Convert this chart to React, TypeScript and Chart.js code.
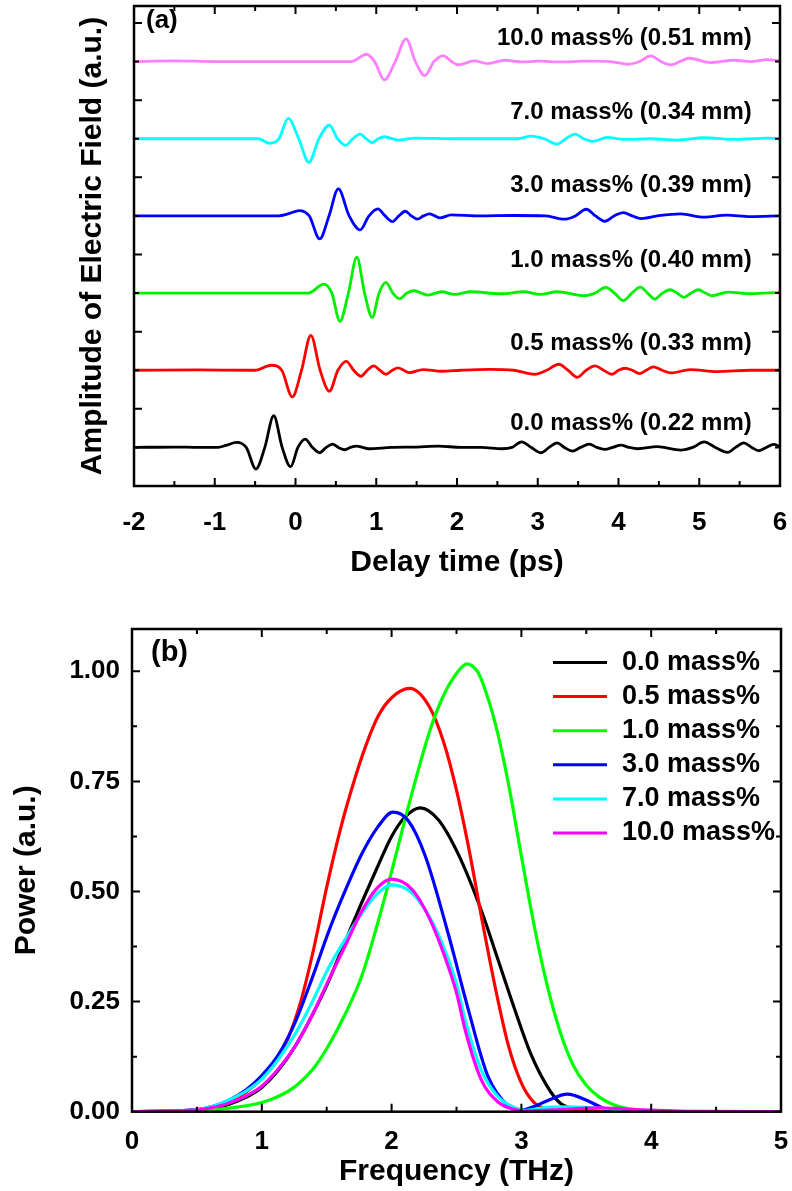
import React, { useEffect, useRef } from 'react';
import { Chart, registerables } from 'chart.js';
Chart.register(...registerables);

const FONT = "'Liberation Sans', Arial, Helvetica, sans-serif";

// ---------- (a) time-domain waveforms ----------
const topLabels = [
  '0.0 mass% (0.22 mm)',
  '0.5 mass% (0.33 mm)',
  '1.0 mass% (0.40 mm)',
  '3.0 mass% (0.39 mm)',
  '7.0 mass% (0.34 mm)',
  '10.0 mass% (0.51 mm)',
];
const topColors = ['#000000', '#ff0000', '#00f000', '#0000ff', '#00ffff', '#ff80ff'];
const traceOffsets = [0.5, 1.5, 2.5, 3.5, 4.5, 5.5];

const time00 = [-2, -1.5, -1.2, -0.96, -0.85, -0.73, -0.61, -0.49, -0.38, -0.27, -0.165, -0.06, 0.03, 0.12, 0.21, 0.3, 0.38, 0.46, 0.53, 0.61, 0.68, 0.76, 0.83, 0.9, 1.19, 1.5, 1.77, 2.05, 2.3, 2.56, 2.68, 2.8, 2.92, 3.04, 3.14, 3.24, 3.33, 3.43, 3.53, 3.64, 3.73, 3.83, 3.93, 4.03, 4.13, 4.24, 4.48, 4.77, 4.92, 5.06, 5.2, 5.35, 5.45, 5.55, 5.65, 5.74, 5.83, 5.92, 6.0];
const amp00 = [0, 0.005, 0, 0, 0.03, 0.065, 0, -0.28, 0, 0.41, 0, -0.25, 0, 0.108, 0, -0.069, 0, 0.043, 0, -0.03, 0, 0.017, 0, -0.017, 0, 0.005, 0.017, 0, 0, -0.017, 0, 0.073, 0, -0.069, 0, 0.06, 0, -0.047, 0, 0.043, 0, -0.026, 0, 0.03, 0, -0.017, 0.009, -0.034, 0, 0.073, 0, -0.065, 0, 0.06, 0, -0.043, 0, 0.039, 0.01];

const time05 = [-2, -1.2, -0.6, -0.5, -0.3, -0.17, -0.04, 0.075, 0.19, 0.305, 0.42, 0.525, 0.63, 0.72, 0.81, 0.89, 0.97, 1.045, 1.12, 1.2, 1.27, 1.34, 1.41, 1.58, 1.81, 2.05, 2.4, 2.7, 2.96, 3.11, 3.26, 3.375, 3.49, 3.6, 3.71, 3.815, 3.92, 4.0, 4.08, 4.17, 4.26, 4.345, 4.43, 4.54, 4.65, 4.89, 5.22, 5.64, 6.0];
const amp05 = [0, 0.005, 0, 0, 0.065, 0, -0.345, 0, 0.453, 0, -0.272, 0, 0.116, 0, -0.078, 0, 0.056, 0, -0.052, 0, 0.03, 0, -0.03, 0.009, -0.013, 0, 0.01, 0, -0.052, 0, 0.078, 0, -0.091, 0, 0.056, 0, -0.052, 0, 0.026, 0, -0.043, 0, 0.043, 0, -0.035, 0.009, -0.017, 0, 0];

const time10 = [-2, -1, 0, 0.16, 0.35, 0.45, 0.55, 0.655, 0.76, 0.855, 0.95, 1.035, 1.12, 1.205, 1.29, 1.38, 1.47, 1.555, 1.64, 1.81, 1.97, 2.17, 2.54, 2.83, 3.03, 3.24, 3.57, 3.71, 3.84, 3.95, 4.06, 4.165, 4.27, 4.36, 4.45, 4.545, 4.64, 4.725, 4.81, 4.9, 4.99, 5.075, 5.16, 5.35, 5.64, 6.0];
const amp10 = [0, 0, 0, 0, 0.116, 0, -0.366, 0, 0.466, 0, -0.315, 0, 0.138, 0, -0.073, 0, 0.03, 0, -0.026, 0.017, -0.017, 0.017, -0.009, 0.017, -0.017, 0.017, -0.034, 0, 0.073, 0, -0.099, 0, 0.078, 0, -0.078, 0, 0.043, 0, -0.056, 0, 0.043, 0, -0.034, 0.013, -0.009, 0.009];

const time30 = [-2, -1, -0.21, -0.08, 0.045, 0.17, 0.3, 0.415, 0.53, 0.665, 0.8, 0.91, 1.02, 1.11, 1.2, 1.28, 1.36, 1.435, 1.51, 1.585, 1.66, 1.725, 1.79, 1.93, 2.27, 2.7, 3.1, 3.33, 3.465, 3.6, 3.715, 3.83, 3.945, 4.06, 4.17, 4.28, 4.48, 4.77, 5.06, 5.34, 5.63, 6.0];
const amp30 = [0, 0, 0, 0.03, 0.069, 0, -0.298, 0, 0.349, 0, -0.181, 0, 0.091, 0, -0.073, 0, 0.06, 0, -0.043, 0, 0.026, 0, -0.026, 0.013, 0, 0.005, 0, -0.043, 0, 0.086, 0, -0.069, 0, 0.043, 0, -0.034, 0, 0.026, -0.017, 0.009, -0.009, 0];

const time70 = [-2, -1, -0.46, -0.32, -0.205, -0.09, 0.04, 0.165, 0.29, 0.42, 0.52, 0.62, 0.71, 0.8, 0.875, 0.95, 1.025, 1.1, 1.27, 1.48, 2.0, 2.5, 2.75, 2.92, 3.08, 3.24, 3.35, 3.46, 3.57, 3.68, 3.86, 4.07, 4.4, 4.73, 5.06, 5.43, 5.84, 6.0];
const amp70 = [0, 0, 0, -0.06, 0, 0.263, 0, -0.306, 0, 0.177, 0, -0.086, 0, 0.06, 0, -0.052, 0, 0.026, -0.017, 0.009, 0, 0, 0, 0.035, 0, -0.069, 0, 0.06, 0, -0.035, 0.017, -0.009, 0, -0.017, 0.013, -0.009, 0.009, 0];

const time100 = [-2, -1.5, -1, 0, 0.5, 0.69, 0.88, 0.98, 1.1, 1.235, 1.37, 1.485, 1.6, 1.715, 1.83, 1.93, 2.02, 2.21, 2.38, 2.59, 2.8, 3.0, 3.3, 3.6, 3.9, 4.12, 4.26, 4.4, 4.525, 4.65, 4.76, 4.87, 5.14, 5.43, 5.64, 5.84, 6.0];
const amp100 = [0, 0.009, 0, 0, 0, 0, 0.095, 0, -0.237, 0, 0.294, 0, -0.181, 0, 0.078, 0, -0.043, 0.009, -0.026, 0.017, -0.005, 0.005, -0.005, 0.005, 0, -0.035, 0, 0.074, 0, -0.043, 0, 0.043, -0.013, 0.017, 0, 0.026, 0.009];

const topTimes = [time00, time05, time10, time30, time70, time100];
const topAmps = [amp00, amp05, amp10, amp30, amp70, amp100];

// ---------- (b) power spectra ----------
const legendLabels = ['0.0 mass%', '0.5 mass%', '1.0 mass%', '3.0 mass%', '7.0 mass%', '10.0 mass%'];
const botColors = ['#000000', '#ff0000', '#00ff00', '#0000ff', '#00ffff', '#ff00ff'];

const freq00 = [0, 0.5, 0.63, 0.75, 0.88, 1.0, 1.13, 1.26, 1.39, 1.51, 1.64, 1.77, 1.89, 2.0, 2.1, 2.22, 2.36, 2.51, 2.69, 2.82, 2.95, 3.07, 3.2, 3.3, 3.4, 3.6, 3.8, 4.0, 5.0];
const pow00 = [0, 0.003, 0.008, 0.017, 0.033, 0.055, 0.095, 0.15, 0.22, 0.293, 0.385, 0.475, 0.555, 0.625, 0.668, 0.69, 0.663, 0.587, 0.458, 0.345, 0.231, 0.133, 0.057, 0.019, 0.007, 0.003, 0.002, 0, 0];

const freq05 = [0, 0.5, 0.63, 0.75, 0.88, 1.0, 1.1, 1.2, 1.3, 1.4, 1.5, 1.6, 1.7, 1.8, 1.9, 2.0, 2.14, 2.29, 2.4, 2.5, 2.6, 2.7, 2.8, 2.9, 3.0, 3.1, 3.2, 3.35, 3.5, 3.7, 4.0, 5.0];
const pow05 = [0, 0.004, 0.011, 0.024, 0.045, 0.075, 0.11, 0.165, 0.25, 0.37, 0.51, 0.635, 0.74, 0.83, 0.9, 0.94, 0.961, 0.92, 0.84, 0.73, 0.59, 0.43, 0.28, 0.15, 0.065, 0.02, 0.006, 0.003, 0.005, 0.003, 0, 0];

const freq10 = [0, 0.5, 0.75, 1.0, 1.13, 1.26, 1.39, 1.51, 1.64, 1.77, 1.89, 2.0, 2.1, 2.2, 2.3, 2.4, 2.5, 2.58, 2.66, 2.7, 2.8, 2.9, 3.0, 3.1, 3.2, 3.3, 3.4, 3.5, 3.6, 3.7, 3.8, 3.9, 4.0, 4.5, 5.0];
const pow10 = [0, 0.002, 0.008, 0.021, 0.035, 0.058, 0.095, 0.148, 0.22, 0.308, 0.425, 0.545, 0.66, 0.77, 0.87, 0.945, 0.995, 1.017, 1.0, 0.975, 0.88, 0.745, 0.58, 0.42, 0.285, 0.18, 0.105, 0.06, 0.033, 0.017, 0.008, 0.004, 0.001, 0, 0];

const freq30 = [0, 0.5, 0.63, 0.75, 0.88, 1.0, 1.13, 1.26, 1.39, 1.51, 1.64, 1.77, 1.89, 2.01, 2.13, 2.26, 2.44, 2.59, 2.74, 2.9, 3.0, 3.1, 3.2, 3.355, 3.51, 3.66, 3.8, 4.0, 5.0];
const pow30 = [0, 0.005, 0.013, 0.027, 0.05, 0.082, 0.13, 0.205, 0.305, 0.405, 0.5, 0.585, 0.645, 0.68, 0.66, 0.58, 0.4, 0.233, 0.082, 0.013, 0.004, 0.012, 0.025, 0.04, 0.025, 0.005, 0.002, 0, 0];

const freq70 = [0, 0.5, 0.63, 0.75, 0.88, 1.0, 1.13, 1.26, 1.39, 1.51, 1.64, 1.77, 1.89, 2.0, 2.16, 2.29, 2.41, 2.5, 2.57, 2.69, 2.82, 2.95, 3.02, 3.2, 3.35, 3.5, 3.75, 4.0, 5.0];
const pow70 = [0, 0.005, 0.013, 0.027, 0.047, 0.074, 0.12, 0.178, 0.25, 0.324, 0.39, 0.45, 0.495, 0.515, 0.496, 0.443, 0.367, 0.29, 0.205, 0.095, 0.034, 0.009, 0.003, 0.01, 0.011, 0.01, 0.005, 0.001, 0];

const freq100 = [0, 0.5, 0.63, 0.75, 0.88, 1.0, 1.13, 1.26, 1.39, 1.51, 1.64, 1.77, 1.89, 2.0, 2.16, 2.29, 2.41, 2.5, 2.57, 2.69, 2.82, 2.95, 3.05, 3.3, 3.6, 3.8, 4.3, 5.0];
const pow100 = [0, 0.004, 0.01, 0.02, 0.036, 0.058, 0.098, 0.15, 0.22, 0.296, 0.375, 0.455, 0.508, 0.528, 0.504, 0.44, 0.352, 0.27, 0.182, 0.073, 0.022, 0.005, 0.002, 0.005, 0.009, 0.006, 0.001, 0];

const botFreqs = [freq00, freq05, freq10, freq30, freq70, freq100];
const botPows = [pow00, pow05, pow10, pow30, pow70, pow100];

// ---------- helpers ----------
function framePlugin(xMinor: number, xMajor: number, yMinor: number, yMajor: number) {
  return {
    id: 'frame',
    afterDraw(chart: any) {
      const { ctx, chartArea, scales } = chart;
      const { left, right, top, bottom } = chartArea;
      const xs = scales.x;
      const ys = scales.y;
      ctx.save();
      ctx.strokeStyle = '#000';
      ctx.lineWidth = 2;
      ctx.beginPath();
      const nx = Math.round((xs.max - xs.min) / xMinor);
      for (let i = 1; i < nx; i++) {
        const v = xs.min + i * xMinor;
        const r = v / xMajor;
        const len = Math.abs(r - Math.round(r)) < 1e-6 ? 8 : 5;
        const px = xs.getPixelForValue(v);
        ctx.moveTo(px, bottom);
        ctx.lineTo(px, bottom - len);
        ctx.moveTo(px, top);
        ctx.lineTo(px, top + len);
      }
      const ny = Math.floor((ys.max - ys.min) / yMinor + 1e-6);
      for (let i = 1; i <= ny; i++) {
        const v = ys.min + i * yMinor;
        const r = v / yMajor;
        const len = Math.abs(r - Math.round(r)) < 1e-6 ? 8 : 5;
        const py = ys.getPixelForValue(v);
        ctx.moveTo(left, py);
        ctx.lineTo(left + len, py);
        ctx.moveTo(right, py);
        ctx.lineTo(right - len, py);
      }
      ctx.stroke();
      ctx.lineWidth = 2.5;
      ctx.strokeRect(left, top, right - left, bottom - top);
      ctx.restore();
    },
  };
}

const topTextPlugin = {
  id: 'topText',
  afterDraw(chart: any) {
    const { ctx, chartArea, scales } = chart;
    const lift = [0.31, 0.35, 0.43, 0.39, 0.34, 0.3];
    ctx.save();
    ctx.fillStyle = '#000';
    ctx.font = `bold 24px ${FONT}`;
    ctx.textAlign = 'right';
    ctx.textBaseline = 'middle';
    topLabels.forEach((txt, i) => {
      ctx.fillText(txt, scales.x.getPixelForValue(5.65), scales.y.getPixelForValue(traceOffsets[i] + lift[i]));
    });
    ctx.font = `bold 26px ${FONT}`;
    ctx.textAlign = 'left';
    ctx.fillText('(a)', chartArea.left + 12, chartArea.top + 15);
    ctx.restore();
  },
};

const botTextPlugin = {
  id: 'botText',
  afterDraw(chart: any) {
    const { ctx, chartArea } = chart;
    ctx.save();
    ctx.font = `bold 29px ${FONT}`;
    ctx.fillStyle = '#000';
    ctx.textAlign = 'left';
    ctx.textBaseline = 'middle';
    ctx.fillText('(b)', chartArea.left + 19, chartArea.top + 24);
    ctx.font = `bold 27px ${FONT}`;
    legendLabels.forEach((txt, i) => {
      const y = chartArea.top + 33.5 + i * 34.1;
      ctx.strokeStyle = botColors[i];
      ctx.lineWidth = 3;
      ctx.beginPath();
      ctx.moveTo(chartArea.left + 421, y);
      ctx.lineTo(chartArea.left + 475, y);
      ctx.stroke();
      ctx.fillStyle = '#000';
      ctx.fillText(txt, chartArea.left + 490, y);
    });
    ctx.restore();
  },
};

function topConfig(): any {
  return {
    type: 'line',
    data: {
      datasets: topTimes.map((ts, k) => ({
        label: topLabels[k],
        data: ts.map((t, i) => ({ x: t, y: topAmps[k][i] + traceOffsets[k] })),
        borderColor: topColors[k],
        borderWidth: 2.8,
        pointRadius: 0,
        fill: false,
        cubicInterpolationMode: 'monotone',
      })),
    },
    options: {
      responsive: false,
      animation: false,
      devicePixelRatio: 1,
      layout: { padding: { left: 0, top: 6, right: 12, bottom: 0 } },
      plugins: { legend: { display: false }, tooltip: { enabled: false } },
      scales: {
        x: {
          type: 'linear',
          min: -2,
          max: 6,
          grid: { display: false, drawTicks: false },
          border: { display: false },
          ticks: { stepSize: 1, autoSkip: false, maxRotation: 0, color: '#000', padding: 21, font: { family: FONT, size: 26, weight: 'bold' } },
          title: { display: true, text: 'Delay time (ps)', color: '#000', padding: { top: 0, bottom: 19 }, font: { family: FONT, size: 30, weight: 'bold' } },
          afterFit: (s: any) => { s.height = 114; s.paddingLeft = 0; s.paddingRight = 0; },
        },
        y: {
          type: 'linear',
          min: 0,
          max: 6.22,
          grid: { display: false, drawTicks: false },
          border: { display: false },
          ticks: { display: false },
          title: { display: true, text: 'Amplitude of Electric Field (a.u.)', color: '#000', padding: { top: 75, bottom: 0 }, font: { family: FONT, size: 30, weight: 'bold' } },
          afterFit: (s: any) => { s.width = 134; s.paddingTop = 0; s.paddingBottom = 0; },
        },
      },
    },
    plugins: [framePlugin(0.5, 1, 0.5, 1), topTextPlugin],
  };
}

function botConfig(): any {
  return {
    type: 'line',
    data: {
      datasets: botFreqs.map((fs, k) => ({
        label: legendLabels[k],
        data: fs.map((f, i) => ({ x: f, y: botPows[k][i] })),
        borderColor: botColors[k],
        borderWidth: 3.2,
        pointRadius: 0,
        fill: false,
        order: 6 - k,
        cubicInterpolationMode: 'monotone',
      })),
    },
    options: {
      responsive: false,
      animation: false,
      devicePixelRatio: 1,
      layout: { padding: { left: 0, top: 29, right: 11, bottom: 0 } },
      plugins: { legend: { display: false }, tooltip: { enabled: false } },
      scales: {
        x: {
          type: 'linear',
          min: 0,
          max: 5,
          grid: { display: false, drawTicks: false },
          border: { display: false },
          ticks: { stepSize: 1, autoSkip: false, maxRotation: 0, color: '#000', padding: 15, font: { family: FONT, size: 26, weight: 'bold' } },
          title: { display: true, text: 'Frequency (THz)', color: '#000', padding: { top: 0, bottom: 1 }, font: { family: FONT, size: 30, weight: 'bold' } },
          afterFit: (s: any) => { s.height = 79.3; s.paddingLeft = 0; s.paddingRight = 0; },
        },
        y: {
          type: 'linear',
          min: 0,
          max: 1.096,
          grid: { display: false, drawTicks: false },
          border: { display: false },
          ticks: {
            stepSize: 0.25,
            includeBounds: false,
            autoSkip: false,
            color: '#000',
            padding: 12,
            font: { family: FONT, size: 26, weight: 'bold' },
            callback: (v: any) => Number(v).toFixed(2),
          },
          title: { display: true, text: 'Power (a.u.)', color: '#000', padding: { top: 9, bottom: 0 }, font: { family: FONT, size: 30, weight: 'bold' } },
          afterFit: (s: any) => { s.width = 132; s.paddingTop = 0; s.paddingBottom = 0; },
        },
      },
    },
    plugins: [framePlugin(0.5, 1, 0.125, 0.25), botTextPlugin],
  };
}

export default function App() {
  const topRef = useRef<HTMLCanvasElement>(null);
  const botRef = useRef<HTMLCanvasElement>(null);
  useEffect(() => {
    const c1 = new Chart(topRef.current as HTMLCanvasElement, topConfig());
    const c2 = new Chart(botRef.current as HTMLCanvasElement, botConfig());
    return () => {
      c1.destroy();
      c2.destroy();
    };
  }, []);
  return (
    <div style={{ position: 'absolute', left: 0, top: 0, width: 792, height: 1191, background: '#fff' }}>
      <canvas ref={topRef} width={792} height={600} style={{ position: 'absolute', left: 0, top: 0 }} />
      <canvas ref={botRef} width={792} height={591} style={{ position: 'absolute', left: 0, top: 600 }} />
    </div>
  );
}
